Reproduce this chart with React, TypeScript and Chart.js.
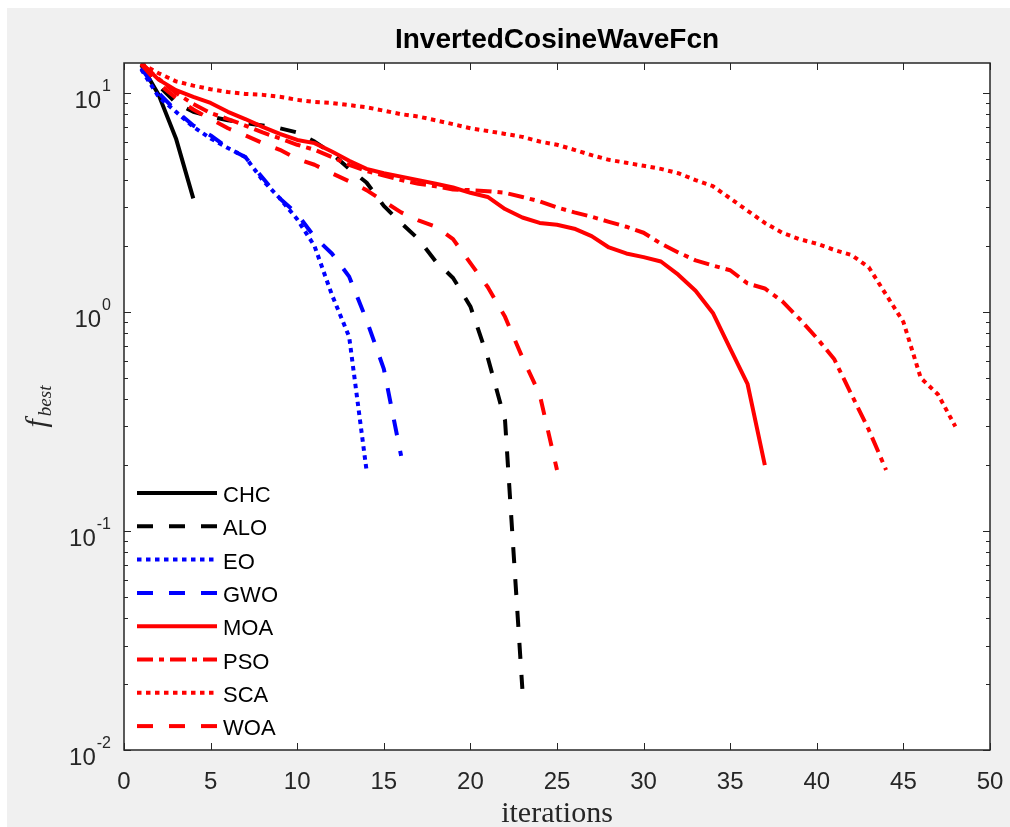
import React, { useEffect, useRef } from 'react';
import { Chart, registerables } from 'chart.js';

Chart.register(...registerables);

// ---------- data ----------
const titleText = 'InvertedCosineWaveFcn';
const xLabelText = 'iterations';
const xTickValues = [0, 5, 10, 15, 20, 25, 30, 35, 40, 45, 50];
const yTickValues = [0.01, 0.1, 1, 10];
const yTickBase = ['10', '10', '10', '10'];
const yTickExp = ['-2', '-1', '0', '1'];
const X_MIN = 0;
const X_MAX = 50;
const Y_MIN = 0.01;
const Y_MAX = 13.7;

const seriesNames = ['CHC', 'ALO', 'EO', 'GWO', 'MOA', 'PSO', 'SCA', 'WOA'];

const CHC = [13.4, 9.8, 6.2, 3.3];
const ALO = [13.5, 10.8, 9.0, 8.2, 7.8, 7.5, 7.3, 7.1, 6.9, 6.6, 6.0, 5.3, 4.5, 3.9, 3.05, 2.55, 2.15, 1.7, 1.43, 1.06, 0.62, 0.32, 0.019];
const EO = [12.8, 9.6, 8.2, 7.0, 6.2, 5.6, 5.1, 4.0, 3.3, 2.65, 2.0, 1.2, 0.77, 0.19];
const GWO = [13.0, 10.0, 8.3, 7.1, 6.4, 5.6, 5.1, 4.1, 3.3, 2.8, 2.2, 1.85, 1.45, 0.92, 0.55, 0.22];
const MOA = [13.7, 11.5, 10.3, 9.6, 9.0, 8.2, 7.6, 7.0, 6.5, 6.1, 5.9, 5.4, 4.9, 4.5, 4.3, 4.15, 4.0, 3.85, 3.7, 3.5, 3.35, 2.95, 2.7, 2.55, 2.5, 2.4, 2.22, 1.97, 1.85, 1.78, 1.7, 1.48, 1.25, 0.99, 0.68, 0.47, 0.2];
const PSO = [13.6, 11.6, 10.0, 8.9, 8.1, 7.6, 7.1, 6.6, 6.2, 5.8, 5.5, 5.1, 4.7, 4.4, 4.2, 4.0, 3.85, 3.75, 3.62, 3.6, 3.56, 3.5, 3.35, 3.2, 3.0, 2.85, 2.72, 2.58, 2.45, 2.3, 2.05, 1.87, 1.72, 1.63, 1.55, 1.35, 1.28, 1.12, 0.93, 0.76, 0.61, 0.42, 0.29, 0.19];
const SCA = [13.6, 12.3, 11.3, 10.8, 10.4, 10.1, 9.9, 9.8, 9.6, 9.3, 9.1, 9.0, 8.8, 8.6, 8.3, 8.0, 7.8, 7.5, 7.2, 6.9, 6.7, 6.5, 6.3, 6.0, 5.8, 5.5, 5.2, 4.95, 4.8, 4.65, 4.5, 4.3, 4.0, 3.75, 3.3, 2.9, 2.55, 2.3, 2.15, 2.05, 1.92, 1.82, 1.6, 1.2, 0.9, 0.5, 0.42, 0.3];
const WOA = [13.5, 11.0, 9.5, 8.4, 7.6, 6.9, 6.4, 5.9, 5.5, 5.0, 4.7, 4.3, 3.95, 3.6, 3.2, 2.85, 2.62, 2.45, 2.15, 1.67, 1.3, 0.95, 0.62, 0.42, 0.19];

const seriesValues = [CHC, ALO, EO, GWO, MOA, PSO, SCA, WOA];

// ---------- styles ----------
const seriesColors = ['#000000', '#000000', '#0000ff', '#0000ff', '#ff0000', '#ff0000', '#ff0000', '#ff0000'];
const DASHED = [16, 16];
const DOTTED = [4.5, 4.5];
const DASHDOT = [16, 6, 5, 6];
const seriesDash: number[][] = [[], DASHED, DOTTED, DASHED, [], DASHDOT, DOTTED, DASHED];
const LINE_W = 4;

const SANS = '"Liberation Sans", Arial, Helvetica, sans-serif';
const SERIF = '"Liberation Serif", "Times New Roman", serif';
const AXIS_COLOR = '#262626';

const framePlugin = {
  id: 'matlabFrame',
  beforeDraw(chart: any) {
    const { ctx, width, height, chartArea: a } = chart;
    ctx.save();
    ctx.fillStyle = '#ffffff';
    ctx.fillRect(0, 0, width, height);
    ctx.fillStyle = '#f0f0f0';
    ctx.fillRect(7, 8, width - 7, height - 8);
    ctx.fillStyle = '#ffffff';
    ctx.fillRect(a.left, a.top, a.right - a.left, a.bottom - a.top);
    ctx.restore();
  },
  afterDraw(chart: any) {
    const { ctx, chartArea: a } = chart;
    const xs = chart.scales.x;
    const ys = chart.scales.y;
    ctx.save();

    // box
    ctx.strokeStyle = AXIS_COLOR;
    ctx.lineWidth = 1.5;
    ctx.setLineDash([]);
    ctx.strokeRect(a.left, a.top, a.right - a.left, a.bottom - a.top);

    // x ticks (inward, top & bottom)
    ctx.lineWidth = 1;
    ctx.beginPath();
    xTickValues.forEach((v) => {
      const px = Math.round(xs.getPixelForValue(v)) + 0.5;
      ctx.moveTo(px, a.bottom);
      ctx.lineTo(px, a.bottom - 7);
      ctx.moveTo(px, a.top);
      ctx.lineTo(px, a.top + 7);
    });
    // y ticks: majors & minors (log)
    for (let d = -2; d <= 1; d++) {
      for (let k = 1; k <= 9; k++) {
        const v = k * Math.pow(10, d);
        if (v > Y_MAX + 1e-9) break;
        const py = Math.round(ys.getPixelForValue(v)) + 0.5;
        const len = k === 1 ? 7 : 4;
        ctx.moveTo(a.left, py);
        ctx.lineTo(a.left + len, py);
        ctx.moveTo(a.right, py);
        ctx.lineTo(a.right - len, py);
      }
    }
    ctx.stroke();

    // y tick labels with superscripts
    ctx.fillStyle = AXIS_COLOR;
    ctx.textBaseline = 'alphabetic';
    ctx.textAlign = 'left';
    yTickValues.forEach((v, i) => {
      const py = ys.getPixelForValue(v);
      ctx.font = `16px ${SANS}`;
      const ew = ctx.measureText(yTickExp[i]).width;
      ctx.font = `24px ${SANS}`;
      const bw = ctx.measureText(yTickBase[i]).width;
      const xEnd = a.left - 13;
      ctx.fillText(yTickBase[i], xEnd - ew - 1 - bw, py + 15);
      ctx.font = `16px ${SANS}`;
      ctx.fillText(yTickExp[i], xEnd - ew, py - 2);
    });

    // title
    const cx = (a.left + a.right) / 2;
    ctx.fillStyle = '#000000';
    ctx.font = `bold 28px ${SANS}`;
    ctx.textAlign = 'center';
    ctx.fillText(titleText, cx, 48);

    // x label
    ctx.fillStyle = AXIS_COLOR;
    ctx.font = `30px ${SERIF}`;
    ctx.fillText(xLabelText, cx, 822);

    // y label f_best (rotated)
    const cy = (a.top + a.bottom) / 2;
    ctx.font = `italic 30px ${SERIF}`;
    const fW = ctx.measureText('f').width;
    ctx.font = `italic 19px ${SERIF}`;
    const sW = ctx.measureText('best').width;
    const total = fW + 3 + sW;
    ctx.save();
    ctx.translate(46, cy);
    ctx.rotate(-Math.PI / 2);
    ctx.textAlign = 'left';
    ctx.font = `italic 30px ${SERIF}`;
    ctx.fillText('f', -total / 2, 0);
    ctx.font = `italic 19px ${SERIF}`;
    ctx.fillText('best', -total / 2 + fW + 3, 5);
    ctx.restore();

    // legend (no box)
    ctx.textAlign = 'left';
    ctx.font = `22px ${SANS}`;
    seriesNames.forEach((name, i) => {
      const y = 493 + i * 33.3;
      ctx.strokeStyle = seriesColors[i];
      ctx.lineWidth = LINE_W;
      ctx.lineCap = 'butt';
      ctx.setLineDash(seriesDash[i]);
      ctx.beginPath();
      ctx.moveTo(137, y);
      ctx.lineTo(217, y);
      ctx.stroke();
      ctx.setLineDash([]);
      ctx.fillStyle = '#000000';
      ctx.fillText(name, 223, y + 9);
    });

    ctx.restore();
  },
};

export default function App() {
  const ref = useRef<HTMLCanvasElement>(null);

  useEffect(() => {
    const canvas = ref.current;
    if (!canvas) return;
    const n = seriesNames.length;
    const datasets = seriesNames.map((name, i) => ({
      label: name,
      data: seriesValues[i].map((v, j) => ({ x: j + 1, y: v })),
      borderColor: seriesColors[i],
      backgroundColor: seriesColors[i],
      borderWidth: LINE_W,
      borderDash: seriesDash[i],
      borderCapStyle: 'butt' as const,
      borderJoinStyle: 'round' as const,
      pointRadius: 0,
      pointHoverRadius: 0,
      tension: 0,
      fill: false,
      order: n - i,
    }));

    const chart = new Chart(canvas, {
      type: 'line',
      data: { datasets },
      options: {
        animation: false,
        responsive: false,
        devicePixelRatio: 1,
        parsing: false as any,
        normalized: true,
        layout: { padding: { left: 124, right: 20, top: 63, bottom: 0 } },
        plugins: {
          legend: { display: false },
          tooltip: { enabled: false },
          title: { display: false },
        },
        events: [],
        scales: {
          x: {
            type: 'linear',
            min: X_MIN,
            max: X_MAX,
            position: 'bottom',
            grid: { display: false, drawTicks: false },
            border: { display: false },
            afterBuildTicks: (scale: any) => {
              scale.ticks = xTickValues.map((v) => ({ value: v }));
            },
            afterFit: (scale: any) => {
              scale.height = 77;
              scale.paddingLeft = 0;
              scale.paddingRight = 0;
            },
            ticks: {
              autoSkip: false,
              maxRotation: 0,
              minRotation: 0,
              padding: 18,
              color: AXIS_COLOR,
              font: { family: SANS, size: 24 },
              callback: (v: any) => String(v),
            },
          },
          y: {
            type: 'logarithmic',
            min: Y_MIN,
            max: Y_MAX,
            display: false,
            afterBuildTicks: (scale: any) => {
              scale.ticks = yTickValues.map((v) => ({ value: v }));
            },
          },
        },
      },
      plugins: [framePlugin],
    } as any);

    return () => chart.destroy();
  }, []);

  return (
    <div style={{ position: 'absolute', left: 0, top: 0, width: 1010, height: 827 }}>
      <canvas ref={ref} width={1010} height={827} style={{ display: 'block' }} />
    </div>
  );
}
